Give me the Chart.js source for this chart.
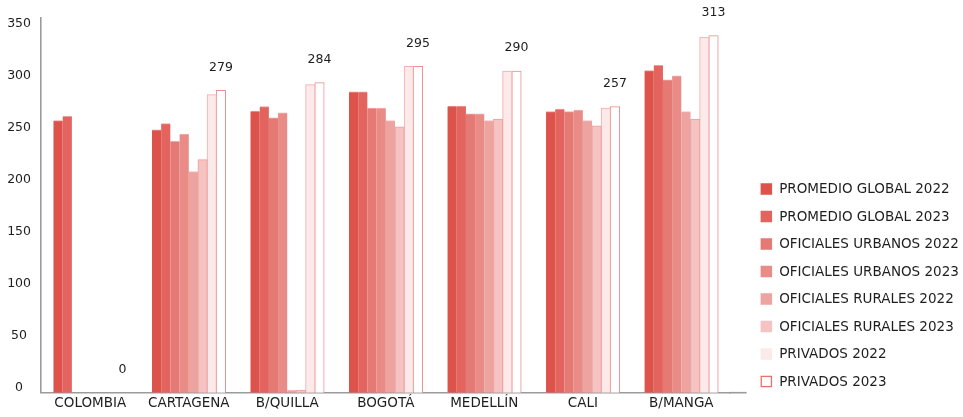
<!DOCTYPE html>
<html>
<head>
<meta charset="utf-8">
<script src="https://cdn.jsdelivr.net/npm/chart.js@4"></script>
<style>
  html, body { margin: 0; padding: 0; background: #ffffff; }
  #wrap { width: 963px; height: 417px; position: relative; }
</style>
</head>
<body>
<div id="wrap"><canvas id="c" width="963" height="417"></canvas></div>
<script>
// ---- data ----
const categories = ['COLOMBIA', 'CARTAGENA', 'B/QUILLA', 'BOGOTÁ', 'MEDELLÍN', 'CALI', 'B/MANGA'];
const seriesNames = ['PROMEDIO GLOBAL 2022', 'PROMEDIO GLOBAL 2023', 'OFICIALES URBANOS 2022', 'OFICIALES URBANOS 2023',
                     'OFICIALES RURALES 2022', 'OFICIALES RURALES 2023', 'PRIVADOS 2022', 'PRIVADOS 2023'];
const promedioGlobal2022   = [261, 252, 270, 288.5, 275, 269.5, 309];
const promedioGlobal2023   = [265, 258, 274.5, 288.5, 275, 272, 314];
const oficialesUrbanos2022 = [null, 241, 263.5, 273, 267.5, 269.5, 300];
const oficialesUrbanos2023 = [null, 248, 268.5, 273, 267.5, 271, 304];
const oficialesRurales2022 = [null, 212, 2.5, 261, 261, 261, 269.5];
const oficialesRurales2023 = [null, 223.5, 2.5, 255, 262.5, 256, 262.5];
const privados2022         = [null, 286, 295.5, 313, 308.5, 273, 341];
const privados2023         = [null, 290, 297.5, 313, 308.5, 274.5, 342.5];
const topLabels            = ['0', '279', '284', '295', '290', '257', '313'];
const yTicks               = [0, 50, 100, 150, 200, 250, 300, 350];

// ---- styles ----
const fills   = ['#de524c', '#e3635e', '#e57a75', '#e98b87', '#eda3a0', '#f5c4c2', '#fce9e9', '#ffffff'];
const borders = ['#eb9d9a', '#ec9f9c', '#efa9a6', '#f0b2af', '#f3c0be', '#ef9f9b', '#f2aeab', '#ee8f8b'];
const borderWidths = [
  { top: 1, left: 0, right: 0, bottom: 0 },
  { top: 1, left: 0, right: 0, bottom: 0 },
  { top: 1, left: 0, right: 0, bottom: 0 },
  { top: 1, left: 0, right: 0, bottom: 0 },
  { top: 1, left: 0, right: 0, bottom: 0 },
  { top: 1, left: 1, right: 1, bottom: 0 },
  1, 1
];
const legendFills   = ['#de524c', '#e3635e', '#e57a75', '#e98b87', '#eda3a0', '#f5c4c2', '#fce9e9', '#ffffff'];
const legendBorders = [null, null, null, null, null, null, null, '#e8716c'];
const FONT = "'DejaVu Sans', sans-serif";

const seriesData = [promedioGlobal2022, promedioGlobal2023, oficialesUrbanos2022, oficialesUrbanos2023,
                    oficialesRurales2022, oficialesRurales2023, privados2022, privados2023];

const datasets = seriesData.map((d, i) => ({
  label: seriesNames[i],
  data: d,
  backgroundColor: fills[i],
  borderColor: borders[i],
  borderWidth: borderWidths[i],
  borderSkipped: 'bottom',
  inflateAmount: 0.45,
  barPercentage: 1.0,
  categoryPercentage: 0.747
}));

const extrasPlugin = {
  id: 'extras',
  afterDatasetsDraw(chart) {
    const ctx = chart.ctx;
    const ca = chart.chartArea;
    const y = chart.scales.y;
    // extend x-axis line to the right
    ctx.save();
    ctx.strokeStyle = '#9b9b9b';
    ctx.lineWidth = 1.6;
    ctx.beginPath();
    ctx.moveTo(ca.right - 1, ca.bottom);
    ctx.lineTo(ca.right + 16, ca.bottom);
    ctx.stroke();
    // labels above PRIVADOS 2023 bars
    const meta = chart.getDatasetMeta(7);
    ctx.fillStyle = '#1e1e1e';
    ctx.font = '12.5px ' + FONT;
    ctx.textAlign = 'center';
    ctx.textBaseline = 'middle';
    topLabels.forEach((t, i) => {
      const el = meta.data[i];
      const v = privados2023[i] == null ? 0 : privados2023[i];
      const py = y.getPixelForValue(v) - 23;
      ctx.fillText(t, el.x, py);
    });
    // legend
    const lx = ca.right + 30;
    const startY = 189, step = 27.5, box = 11.5;
    ctx.font = '13.5px ' + FONT;
    ctx.textAlign = 'left';
    seriesNames.forEach((n, i) => {
      const cy = startY + i * step;
      ctx.fillStyle = legendFills[i];
      ctx.fillRect(lx, cy - box / 2, box, box);
      if (legendBorders[i]) {
        ctx.strokeStyle = legendBorders[i];
        ctx.lineWidth = 1.3;
        ctx.strokeRect(lx + 0.65, cy - box / 2 + 0.65, box - 1.3, box - 1.3);
      }
      ctx.fillStyle = '#1e1e1e';
      ctx.fillText(n, lx + 18.6, cy + 0.5);
    });
    ctx.restore();
  }
};

new Chart(document.getElementById('c'), {
  type: 'bar',
  data: { labels: categories, datasets },
  options: {
    responsive: false,
    animation: false,
    devicePixelRatio: 1,
    layout: { padding: { top: 12, right: 232.4, bottom: 0, left: 0 } },
    plugins: { legend: { display: false }, tooltip: { enabled: false } },
    scales: {
      x: {
        grid: { display: false, drawTicks: false },
        border: { display: true, color: '#9b9b9b', width: 1.6 },
        ticks: { color: '#1e1e1e', font: { family: FONT, size: 13.5 }, padding: 3, maxRotation: 0, autoSkip: false },
        afterFit(s) { s.height = 24.3; }
      },
      y: {
        min: 0, max: 360,
        grid: { display: false, drawTicks: false },
        border: { display: true, color: '#9b9b9b', width: 1.6 },
        afterBuildTicks(s) { s.ticks = yTicks.map(v => ({ value: v })); },
        ticks: { color: '#1e1e1e', font: { family: FONT, size: 12.5 }, padding: 10, crossAlign: 'center', labelOffset: -4.5 },
        afterFit(s) { s.width = 41; }
      }
    }
  },
  plugins: [extrasPlugin]
});
</script>
</body>
</html>
